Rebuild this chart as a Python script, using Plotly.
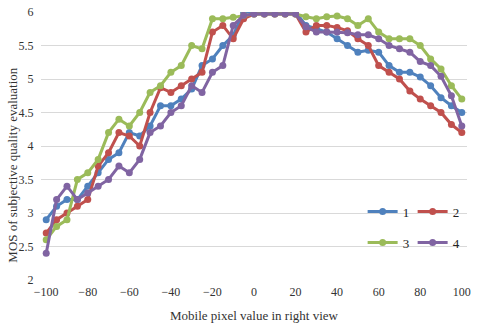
import plotly.graph_objects as go

# x positions: mobile pixel value in right view
x_vals = list(range(-100, 101, 5))

mos_1 = [2.9, 3.1, 3.2, 3.2, 3.4, 3.6, 3.8, 3.9, 4.2, 4.15,
         4.3, 4.6, 4.6, 4.7, 4.85, 5.2, 5.3, 5.5, 5.65, 6.0,
         6.0, 6.0, 6.0, 6.0, 6.0, 5.8, 5.75, 5.7, 5.6, 5.5,
         5.4, 5.43, 5.4, 5.2, 5.1, 5.1, 5.03, 4.9, 4.72, 4.6, 4.5]
mos_2 = [2.7, 2.9, 3.0, 3.1, 3.2, 3.7, 3.9, 4.2, 4.15, 4.0,
         4.5, 4.87, 4.8, 4.9, 5.0, 5.1, 5.7, 5.8, 5.6, 5.9,
         5.97, 5.97, 5.97, 5.97, 5.97, 5.7, 5.8, 5.8, 5.77, 5.72,
         5.6, 5.5, 5.2, 5.1, 5.0, 4.82, 4.7, 4.6, 4.5, 4.32, 4.2]
mos_3 = [2.6, 2.8, 2.9, 3.5, 3.6, 3.8, 4.2, 4.4, 4.3, 4.5,
         4.8, 4.9, 5.1, 5.2, 5.5, 5.45, 5.9, 5.9, 5.92, 5.95,
         5.97, 5.97, 5.97, 5.97, 5.97, 5.93, 5.9, 5.93, 5.94, 5.9,
         5.8, 5.9, 5.7, 5.6, 5.6, 5.6, 5.5, 5.3, 5.15, 4.9, 4.7]
mos_4 = [2.4, 3.2, 3.4, 3.2, 3.3, 3.4, 3.5, 3.7, 3.6, 3.8,
         4.2, 4.3, 4.5, 4.6, 4.9, 4.8, 5.1, 5.2, 5.8, 5.95,
         5.97, 5.97, 5.97, 5.97, 5.97, 5.78, 5.7, 5.7, 5.7, 5.69,
         5.66, 5.66, 5.6, 5.5, 5.45, 5.4, 5.26, 5.2, 5.04, 4.75, 4.3]

series_names = ["1", "2", "3", "4"]
series_colors = ["#4F81BD", "#C0504D", "#9BBB59", "#8064A2"]
x_ticks = list(range(-100, 101, 20))

FONT = "Liberation Serif, Times New Roman, serif"

fig = go.Figure()
for i, (name, ys, color) in enumerate(zip(series_names, [mos_1, mos_2, mos_3, mos_4], series_colors)):
    fig.add_trace(go.Scatter(
        x=x_vals, y=ys, name=name, mode="lines+markers",
        line=dict(color=color, width=3),
        marker=dict(color=color, size=7),
        legend="legend" if i < 2 else "legend2",
    ))

legend_style = dict(
    orientation="h", xanchor="left", yanchor="middle",
    bgcolor="rgba(0,0,0,0)", font=dict(family=FONT, size=13, color="#222"),
    entrywidth=5, itemwidth=30,
)

fig.update_layout(
    width=480, height=330,
    margin=dict(l=41, r=13, t=12, b=50, autoexpand=False),
    paper_bgcolor="white", plot_bgcolor="white",
    font=dict(family=FONT, size=12, color="#333"),
    legend=dict(x=0.755, y=0.255, **legend_style),
    legend2=dict(x=0.755, y=0.14, **legend_style),
    xaxis=dict(
        range=[-102.5, 102.5], tickvals=x_ticks, showgrid=False, zeroline=False,
        showline=False, ticks="outside", ticklen=1, tickcolor="rgba(0,0,0,0)",
        automargin=False,
        title=dict(text="Mobile pixel value in right view", font=dict(size=13), standoff=12),
    ),
    yaxis=dict(
        range=[2, 6], dtick=0.5, showgrid=True, gridcolor="#D9D9D9", gridwidth=1,
        zeroline=False, showline=False, ticks="outside", ticklen=4,
        tickcolor="rgba(0,0,0,0)", automargin=False,
    ),
    annotations=[dict(
        text="MOS of subjective quality evaluation", textangle=-90,
        xref="paper", yref="paper", x=-0.066, y=0.43, xanchor="center", yanchor="middle",
        showarrow=False, font=dict(size=13),
    )],
)

# drop the default 8px page margin so the figure sits at the window's corner
fig.write_html("out.html", config={"displayModeBar": False},
               post_script="document.body.style.margin='0';")
